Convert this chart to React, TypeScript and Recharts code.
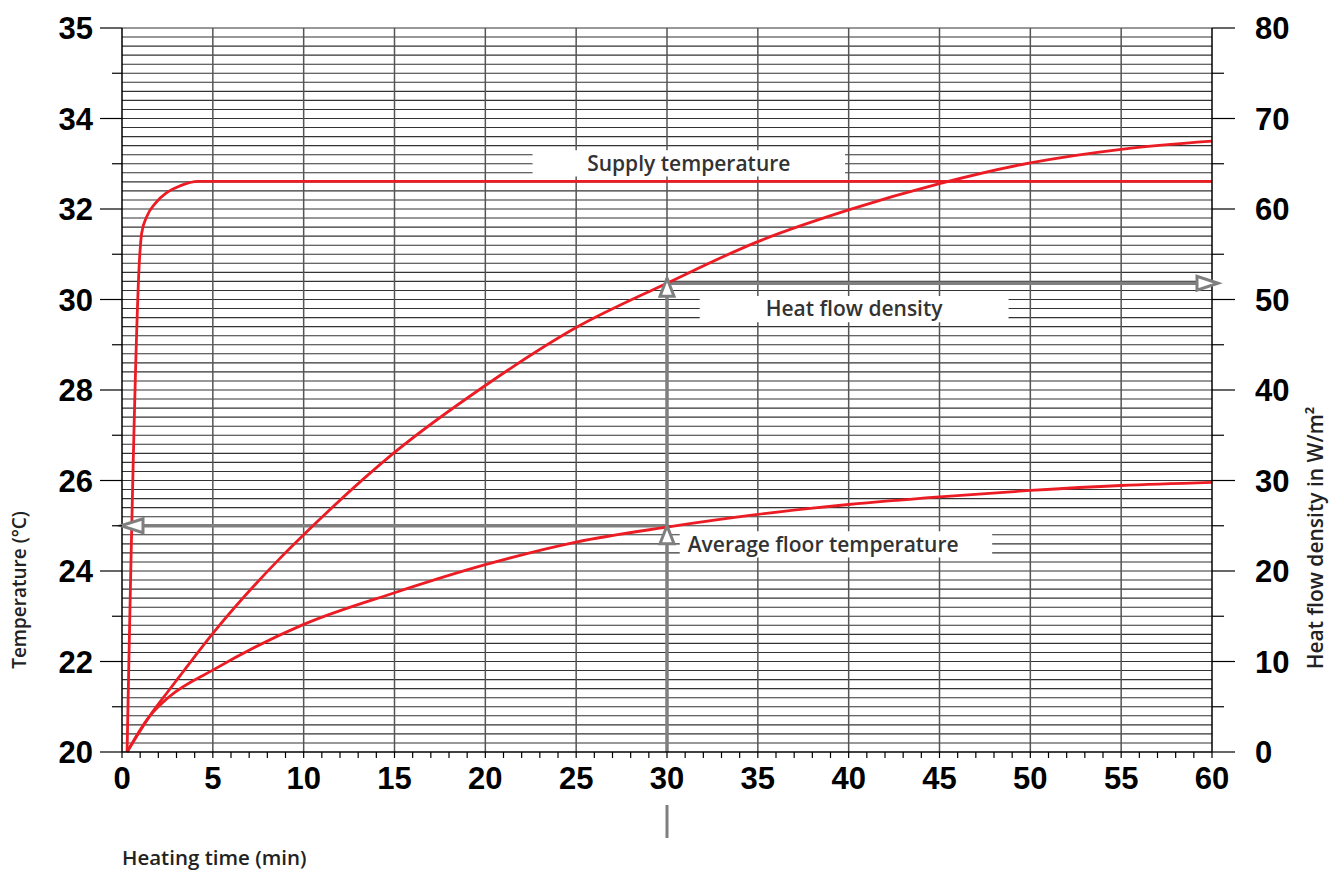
import React from 'react';
import {
  LineChart,
  Line,
  XAxis,
  YAxis,
  CartesianGrid,
  ReferenceArea,
  Customized
} from 'recharts';

// heating time in minutes
const supplyTime = [0.28, 0.98, 1.08, 1.36, 1.82, 2.46, 3.19, 4.2, 60];
const supplyTemp = [20, 31.0, 31.46, 31.83, 32.12, 32.36, 32.51, 32.61, 32.61];

const heatTime = [0.28, 0.8, 1.5, 2.5, 3.3, 5, 8.6, 10, 15, 20, 25, 30, 35, 40, 45, 50, 55, 60];
const heatFlow = [0, 1.7, 3.9, 6.6, 8.7, 13.1, 21.2, 24.0, 33.1, 40.5, 46.9, 51.8, 56.4, 59.9, 62.8, 65.1, 66.6, 67.5];

const floorTime = [0.28, 1.5, 2.6, 5, 10, 15, 20, 25, 30, 35, 40, 45, 50, 55, 60];
const floorTemp = [20, 20.78, 21.22, 21.81, 22.82, 23.52, 24.14, 24.64, 24.97, 25.25, 25.47, 25.64, 25.78, 25.89, 25.96];

const xTicks = Array.from({ length: 61 }, (_, i) => i);
const leftTicks = [20, 21, 22, 23, 24, 25, 26, 27, 28, 29, 30, 31, 32, 33, 34, 35, 36];
const leftTickLabels: Record<number, string> = {
  20: '20', 22: '22', 24: '24', 26: '26', 28: '28', 30: '30', 32: '32', 34: '34', 36: '35'
};
const rightTicks = [0, 5, 10, 15, 20, 25, 30, 35, 40, 45, 50, 55, 60, 65, 70, 75, 80];
// fine grid: one line per W/m² (= 0.2 °C)
const hGrid = Array.from({ length: 80 }, (_, i) => Math.round((20.2 + i * 0.2) * 10) / 10);
const vGrid = [5, 10, 15, 20, 25, 30, 35, 40, 45, 50, 55];

// reading at 30 min
const readTime = 30;
const readFlow = 51.8;
const readTemp = 25;

const supplyData = supplyTime.map((t, i) => ({ t, v: supplyTemp[i] }));
const heatData = heatTime.map((t, i) => ({ t, v: heatFlow[i] }));
const floorData = floorTime.map((t, i) => ({ t, v: floorTemp[i] }));

const RED = '#ec1c24';
const GREY = '#7f7f7f';
const NUM_FONT = '"Liberation Sans", Arial, sans-serif';
const TXT_FONT = '"Open Sans", "Noto Sans", sans-serif';

const LeftTick = ({ x, y, payload }: any) => {
  const v = payload.value;
  const label = leftTickLabels[v];
  return (
    <g>
      <line x1={x - (label ? 22 : 10)} x2={x} y1={y} y2={y} stroke="#000" strokeWidth={1.2} />
      {label && (
        <text x={x - 29} y={y} dy="0.36em" textAnchor="end" fontFamily={NUM_FONT}
          fontWeight="bold" fontSize={31} fill="#000">{label}</text>
      )}
    </g>
  );
};

const RightTick = ({ x, y, payload }: any) => {
  const v = payload.value;
  const major = v % 10 === 0;
  return (
    <g>
      <line x1={x} x2={x + (major ? 23 : 12)} y1={y} y2={y} stroke="#000" strokeWidth={1.2} />
      {major && (
        <text x={x + 43} y={y} dy="0.36em" textAnchor="start" fontFamily={NUM_FONT}
          fontWeight="bold" fontSize={31} fill="#000">{v}</text>
      )}
    </g>
  );
};

const BottomTick = ({ x, y, payload }: any) => {
  const v = payload.value;
  if (v % 5 !== 0) return <g />;
  return (
    <g>
      <text x={x} y={y} dy="0.71em" textAnchor="middle" fontFamily={NUM_FONT}
        fontWeight="bold" fontSize={31} fill="#000">{v}</text>
      {v === readTime && <line x1={x} x2={x} y1={y + 38} y2={y + 71} stroke={GREY} strokeWidth={3} />}
    </g>
  );
};

const arrowLeft = (props: any) => {
  const { cx, cy, index } = props;
  if (index !== 0) return <g key={`al${index}`} />;
  return <polygon key={`al${index}`} points={`${cx - 1},${cy} ${cx + 21},${cy - 7} ${cx + 21},${cy + 7}`}
    fill="#fff" stroke={GREY} strokeWidth={3} />;
};

const arrowRight = (props: any) => {
  const { cx, cy, index } = props;
  if (index !== 1) return <g key={`ar${index}`} />;
  return <polygon key={`ar${index}`} points={`${cx + 6},${cy} ${cx - 15},${cy - 7} ${cx - 15},${cy + 7}`}
    fill="#fff" stroke={GREY} strokeWidth={3} />;
};

const arrowUp = (props: any) => {
  const { cx, cy, index } = props;
  if (index === 0) return <g key={`au${index}`} />;
  const tip = index === 2 ? cy - 5 : cy;
  return <polygon key={`au${index}`} points={`${cx},${tip} ${cx - 7},${tip + 18} ${cx + 7},${tip + 18}`}
    fill="#fff" stroke={GREY} strokeWidth={3} />;
};

const Titles = () => (
  <g fontFamily={TXT_FONT} fontWeight={600} fill="#222">
    <text x={122} y={865} fontSize={20.5}>Heating time (min)</text>
    <text transform="translate(26,590) rotate(-90)" textAnchor="middle" fontSize={19}>Temperature (°C)</text>
    <text transform="translate(1323,538) rotate(-90)" textAnchor="middle" fontSize={21}>Heat flow density in W/m²</text>
  </g>
);

const boxLabel = (value: string, position: any = 'center') => ({
  value,
  position,
  offset: 8,
  fill: '#333',
  fontSize: 21,
  fontWeight: 600,
  fontFamily: TXT_FONT
});

export default function App() {
  return (
    <div style={{ position: 'absolute', left: 0, top: 0, background: '#fff' }}>
      <LineChart width={1342} height={873} margin={{ top: 28, right: 0, bottom: 0, left: 0 }}>
        <CartesianGrid yAxisId="left" vertical={false} horizontalValues={hGrid}
          stroke="#333" strokeWidth={1.1} />
        <CartesianGrid yAxisId="left" horizontal={false} verticalValues={vGrid}
          stroke="#555" strokeWidth={1.5} />
        <XAxis
          type="number"
          dataKey="t"
          domain={[0, 60]}
          ticks={xTicks}
          interval={0}
          height={121}
          tickSize={6}
          tickMargin={9}
          tickLine={{ stroke: '#000', strokeWidth: 1.2 }}
          axisLine={{ stroke: '#000', strokeWidth: 1.5 }}
          tick={<BottomTick />}
          allowDecimals={false}
        />
        <YAxis
          yAxisId="left"
          orientation="left"
          type="number"
          domain={[20, 36]}
          ticks={leftTicks}
          interval={0}
          width={122}
          tickSize={0}
          tickMargin={0}
          tickLine={false}
          axisLine={{ stroke: '#000', strokeWidth: 1.5 }}
          tick={<LeftTick />}
        />
        <YAxis
          yAxisId="right"
          orientation="right"
          type="number"
          domain={[0, 80]}
          ticks={rightTicks}
          interval={0}
          width={130}
          tickSize={0}
          tickMargin={0}
          tickLine={false}
          axisLine={{ stroke: '#000', strokeWidth: 1.5 }}
          tick={<RightTick />}
        />

        <ReferenceArea yAxisId="right" x1={22.6} x2={39.8} y1={63.6} y2={66.5}
          fill="#fff" fillOpacity={1} stroke="none" label={boxLabel('Supply temperature')} />
        <ReferenceArea yAxisId="right" x1={31.8} x2={48.8} y1={47.5} y2={50.4}
          fill="#fff" fillOpacity={1} stroke="none" label={boxLabel('Heat flow density')} />
        <ReferenceArea yAxisId="right" x1={30.7} x2={47.9} y1={21.5} y2={24.4}
          fill="#fff" fillOpacity={1} stroke="none" label={boxLabel('Average floor temperature', 'insideLeft')} />

        <Line yAxisId="left" data={[{ t: 0, v: readTemp }, { t: readTime, v: readTemp }]} dataKey="v"
          type="linear" stroke={GREY} strokeWidth={3.5} dot={arrowLeft} activeDot={false} isAnimationActive={false} />
        <Line yAxisId="right" data={[{ t: readTime, v: readFlow }, { t: 60, v: readFlow }]} dataKey="v"
          type="linear" stroke={GREY} strokeWidth={3.5} dot={arrowRight} activeDot={false} isAnimationActive={false} />
        <Line yAxisId="right" data={[{ t: readTime, v: 0 }, { t: readTime, v: (readTemp - 20) * 5 }, { t: readTime, v: readFlow }]}
          dataKey="v" type="linear" stroke={GREY} strokeWidth={3.5} dot={arrowUp} activeDot={false} isAnimationActive={false} />

        <Line yAxisId="left" data={supplyData} dataKey="v" type="monotone" stroke={RED}
          strokeWidth={2.8} dot={false} activeDot={false} isAnimationActive={false} />
        <Line yAxisId="right" data={heatData} dataKey="v" type="monotone" stroke={RED}
          strokeWidth={2.8} dot={false} activeDot={false} isAnimationActive={false} />
        <Line yAxisId="left" data={floorData} dataKey="v" type="monotone" stroke={RED}
          strokeWidth={2.8} dot={false} activeDot={false} isAnimationActive={false} />

        <Customized component={<Titles />} />
      </LineChart>
    </div>
  );
}
